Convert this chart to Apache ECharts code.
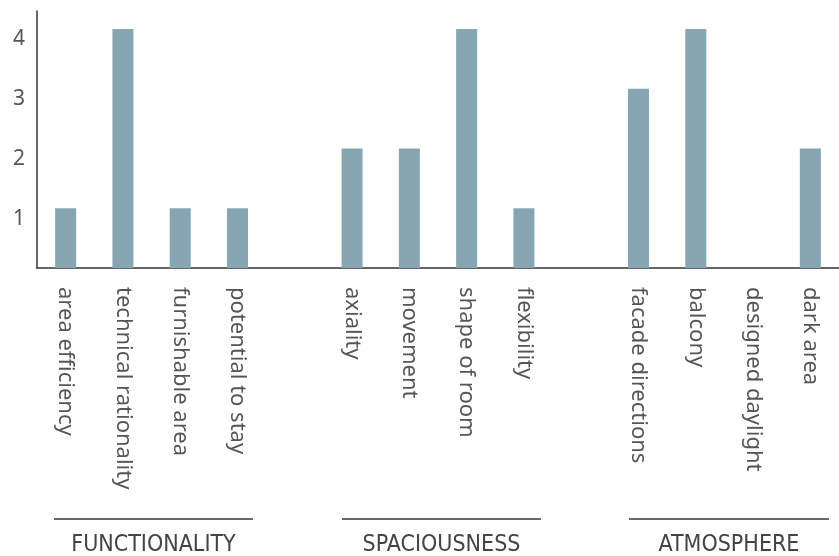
<!DOCTYPE html>
<html>
<head>
<meta charset="utf-8">
<script src="https://cdn.jsdelivr.net/npm/echarts@6/dist/echarts.min.js"></script>
<style>
  html, body { margin: 0; padding: 0; background: #fff; }
  #chart { width: 839px; height: 556px; }
</style>
</head>
<body>
<div id="chart"></div>
<script>
// blank entries separate the three groups
const categories = [
  'area efficiency', 'technical rationality', 'furnishable area', 'potential to stay', '',
  'axiality', 'movement', 'shape of room', 'flexibility', '',
  'facade directions', 'balcony', 'designed daylight', 'dark area'
];
const scores = [1, 4, 1, 1, null, 2, 2, 4, 1, null, 3, 4, 0, 2];
const yTicks = [1, 2, 3, 4];
const groups = [
  { name: 'FUNCTIONALITY', x1: 54, x2: 253 },
  { name: 'SPACIOUSNESS', x1: 342, x2: 541 },
  { name: 'ATMOSPHERE', x1: 629, x2: 829 }
];

const chart = echarts.init(document.getElementById('chart'));
const labelFont = '"Noto Sans", "Open Sans", sans-serif';
const groupFont = '"Liberation Sans Narrow", "DejaVu Sans Condensed", sans-serif';

const graphics = [];
groups.forEach(g => {
  graphics.push({
    type: 'line',
    shape: { x1: g.x1, y1: 519, x2: g.x2, y2: 519 },
    style: { stroke: '#333', lineWidth: 1.5 }
  });
  graphics.push({
    type: 'text',
    x: (g.x1 + g.x2) / 2,
    y: 545,
    style: {
      text: g.name,
      fill: '#444',
      font: '23px ' + groupFont,
      align: 'center',
      verticalAlign: 'middle'
    }
  });
});

chart.setOption({
  animation: false,
  grid: { left: 37, right: -4, top: 11, bottom: 288, containLabel: false },
  xAxis: {
    type: 'category',
    data: categories,
    axisLine: { show: true, lineStyle: { color: '#333', width: 1.5 } },
    axisTick: { show: false },
    axisLabel: {
      interval: 0,
      rotate: -90,
      margin: 19,
      color: '#555',
      fontSize: 22,
      fontFamily: labelFont
    }
  },
  yAxis: {
    type: 'value',
    min: 0,
    max: 4.3,
    interval: 1,
    axisLine: { show: true, lineStyle: { color: '#333', width: 1.5 } },
    axisTick: { show: false },
    splitLine: { show: false },
    axisLabel: {
      margin: 12,
      color: '#555',
      fontSize: 21,
      fontFamily: labelFont,
      verticalAlign: 'top',
      formatter: v => (yTicks.indexOf(v) >= 0 ? String(v) : '')
    }
  },
  series: [{
    type: 'bar',
    data: scores,
    barWidth: 21,
    itemStyle: { color: '#87a6b3' }
  }],
  graphic: graphics
});
</script>
</body>
</html>
